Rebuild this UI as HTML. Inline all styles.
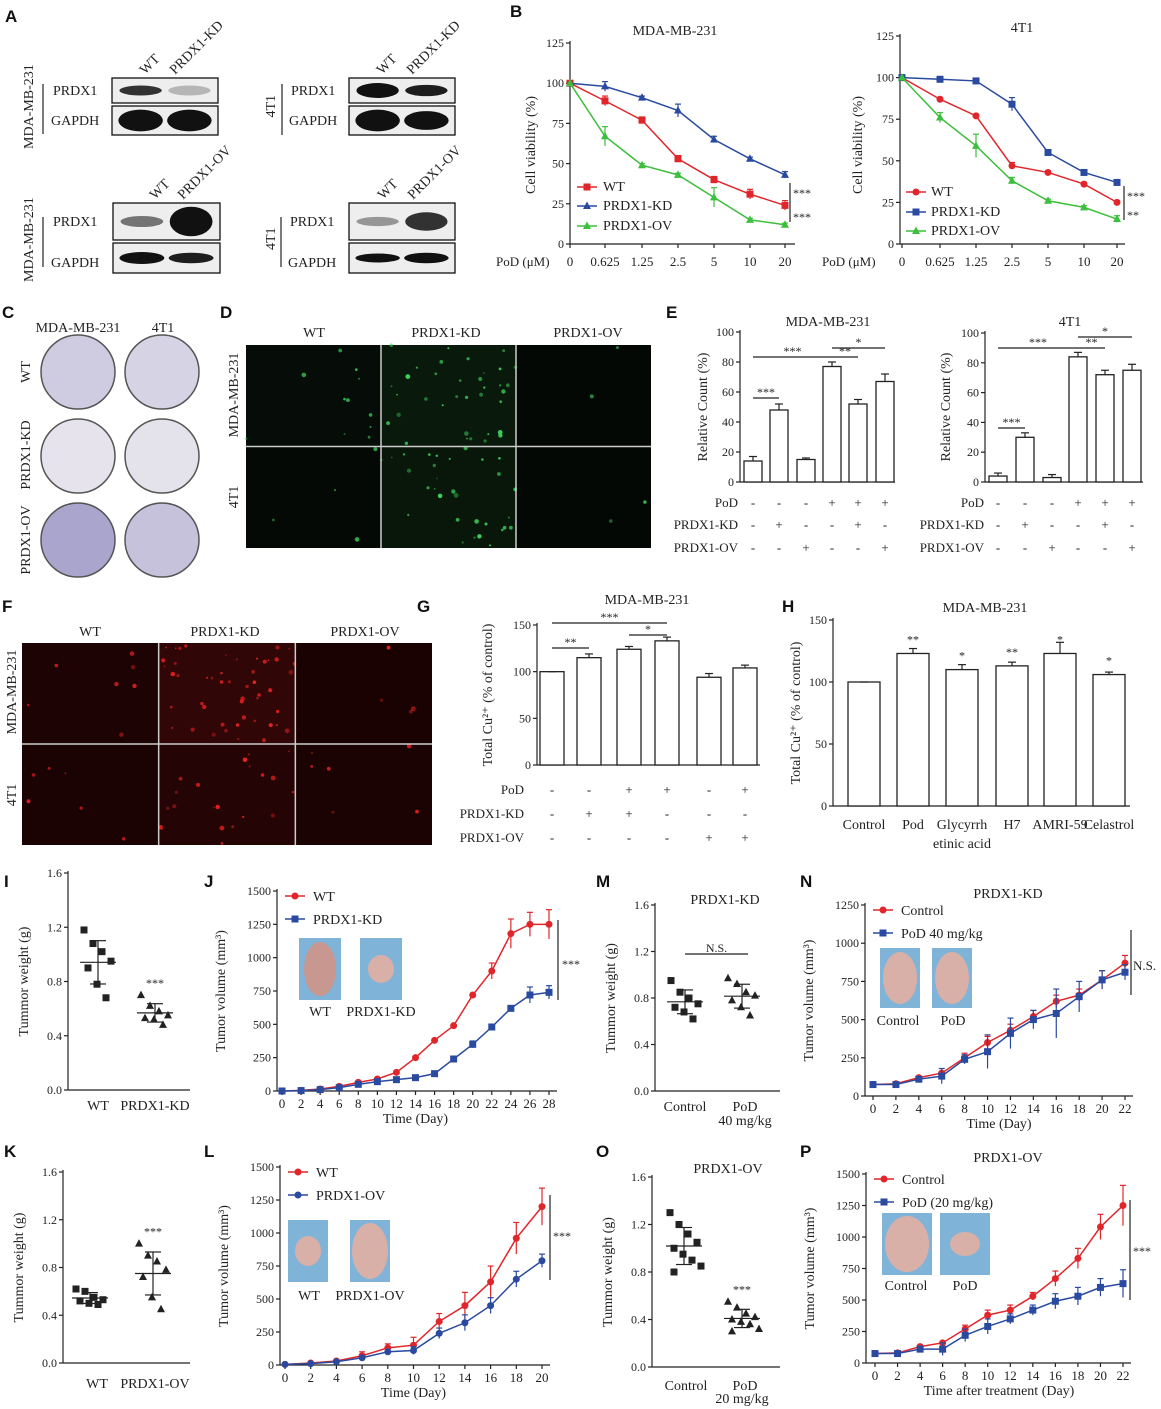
<!DOCTYPE html>
<html><head><meta charset="utf-8"><style>
html,body{margin:0;padding:0;background:#fff}
svg{display:block;font-family:"Liberation Serif",serif}
</style></head><body>
<svg id="s" width="1161" height="1409" viewBox="0 0 1161 1409" xmlns="http://www.w3.org/2000/svg">
<rect width="1161" height="1409" fill="#fff"/>
<g id="g"></g>
</svg>
<script>
var o=[];function A(x){o.push(x)}
function t(x,y,s,p){p=p||{};A('<text x="'+x+'" y="'+y+'" font-size="'+(p.fs||13)+'" text-anchor="'+(p.a||'start')+'"'+(p.r?' transform="rotate('+p.r+' '+x+' '+y+')"':'')+' fill="'+(p.c||'#222')+'"'+(p.b?' font-weight="bold" font-family="Liberation Sans,sans-serif"':'')+'>'+s+'</text>')}
function L(a,b,c,d,col,w){A('<line x1="'+a+'" y1="'+b+'" x2="'+c+'" y2="'+d+'" stroke="'+(col||'#222')+'" stroke-width="'+(w||1.2)+'"/>')}
function R(x,y,w,h,f,st){A('<rect x="'+x+'" y="'+y+'" width="'+w+'" height="'+h+'" fill="'+(f||'none')+'"'+(st?' stroke="'+st+'" stroke-width="1.3"':'')+'/>')}
var seed=7;function rnd(){seed=(seed*16807)%2147483647;return seed/2147483647}
function mk(x,y,k,c){c=c||'#222';var r=3.5;
 if(k=='o')A('<circle cx="'+x+'" cy="'+y+'" r="'+r+'" fill="'+c+'"/>');
 else if(k=='s')R(x-r,y-r,2*r,2*r,c);
 else A('<polygon points="'+x+','+(y-r-1)+' '+(x-r-0.5)+','+(y+r-0.5)+' '+(x+r+0.5)+','+(y+r-0.5)+'" fill="'+c+'"/>');}
function yax(x,yb,yt,vmax,ticks,fmt,fs){var k=(yb-yt)/vmax;L(x,yb,x,yt-2);ticks.forEach(function(v){var y=yb-v*k;L(x-4,y,x,y);t(x-6,y+4,fmt?fmt(v):v,{a:'end',fs:fs||12})});return function(v){return yb-v*k}}
[['A',5,22],['B',510,17],['C',2,318],['D',220,318],['E',666,318],['F',2,612],['G',417,612],['H',782,612],['I',4,887],['J',204,887],['M',596,887],['N',800,887],['K',4,1157],['L',204,1157],['O',596,1157],['P',800,1157]].forEach(function(a){t(a[1],a[2],a[0],{b:1,fs:17,c:'#111'})});
function band(cx,cy,w,h,op){A('<ellipse cx="'+cx+'" cy="'+cy+'" rx="'+w/2+'" ry="'+h/2+'" fill="#111" opacity="'+op+'"/>')}
function blot(x,y1,h1,y2,h2,w,b){R(x,y1,w,h1,'#eee','#111');R(x,y2,w,h2,'#eee','#111');
 band(x+w*0.27,y1+h1/2,w*0.4,h1*b[2],b[0]);band(x+w*0.73,y1+h1/2,w*0.4,h1*b[3],b[1]);
 band(x+w*0.27,y2+h2/2,w*0.42,h2*b[6],b[4]);band(x+w*0.73,y2+h2/2,w*0.42,h2*b[7],b[5]);}
blot(112,78,25,106,29,106,[0.85,0.25,0.4,0.4,1,1,0.75,0.75]);
blot(349,78,25,106,29,106,[1,0.95,0.6,0.45,1,1,0.75,0.65]);
blot(113,203,37,243,30,107,[0.55,1,0.3,0.8,1,0.95,0.4,0.35]);
blot(349,203,37,243,30,106,[0.4,0.85,0.25,0.5,1,1,0.3,0.35]);
function blotLab(xl,yp,yg,xv,yv1,yv2,name,xt){t(xl,yp,'PRDX1',{fs:14});t(xl-2,yg,'GAPDH',{fs:14});L(xv,yv1,xv,yv2);t(xt,(yv1+yv2)/2+ (name.length>4?40:8),name,{r:-90,fs:14})}
blotLab(53,95,125,43,84,134,'MDA-MB-231',33);blotLab(291,95,125,282,84,135,'4T1',275);
blotLab(53,226,267,43,217,267,'MDA-MB-231',33);blotLab(290,226,267,281,217,267,'4T1',275);
[[145,75,'WT','PRDX1-KD',175],[382,75,'WT','PRDX1-KD',412],[155,200,'WT','PRDX1-OV',183],[383,200,'WT','PRDX1-OV',413]].forEach(function(a){t(a[0],a[1],a[2],{r:-45,fs:14});t(a[4],a[1],a[3],{r:-45,fs:14})});
function lc(x0,xs,Y,ser){ser.forEach(function(s){var p=s.v.map(function(v,i){return xs[i]+','+Y(v)}).join(' ');A('<polyline points="'+p+'" fill="none" stroke="'+s.c+'" stroke-width="1.5"/>');s.v.forEach(function(v,i){if(s.e){var e=s.e[i]||0;if(e){L(xs[i],Y(v-e),xs[i],Y(v+e),s.c,1.2);L(xs[i]-3,Y(v+e),xs[i]+3,Y(v+e),s.c,1.2);}}mk(xs[i],Y(v),s.m,s.c)})})}
var RED='#e0262b',BLU='#2a4aa0',GRN='#3cbf3c';
(function(){var Y=yax(570,244,43,125,[0,25,50,75,100,125]);L(570,244,795,244);var xs=[570,605,642,678,714,750,785];
 var lb=['0','0.625','1.25','2.5','5','10','20'];xs.forEach(function(x,i){L(x,244,x,248);t(x,266,lb[i],{a:'middle',fs:13})});t(496,266,'PoD (μM)',{fs:13});
 t(535,145,'Cell viability (%)',{r:-90,a:'middle',fs:14});t(675,35,'MDA-MB-231',{a:'middle',fs:14});
 lc(0,xs,Y,[{v:[100,89,77,53,40,31,24],c:RED,m:'s',e:[0,3,2,2,2,3,3]},{v:[100,98,91,83,65,53,43],c:BLU,m:'t',e:[0,3,1,4,2,1,2]},{v:[100,67,49,43,29,15,12],c:GRN,m:'t',e:[0,6,1,1,6,1,1]}]);
 L(790,183,790,222);t(793,197,'***',{fs:12});t(793,221,'***',{fs:12});
 [[RED,'s','WT',191],[BLU,'t','PRDX1-KD',210],[GRN,'t','PRDX1-OV',230]].forEach(function(a){L(577,a[3]-4,597,a[3]-4,a[0],1.5);mk(587,a[3]-4,a[1],a[0]);t(603,a[3],a[2],{fs:14})});
})();
(function(){var Y=yax(900,244,36,125,[0,25,50,75,100,125]);L(900,244,1125,244);var xs=[902,940,976,1012,1048,1084,1117];
 var lb=['0','0.625','1.25','2.5','5','10','20'];xs.forEach(function(x,i){L(x,244,x,248);t(x,266,lb[i],{a:'middle',fs:13})});t(822,266,'PoD (μM)',{fs:13});
 t(862,145,'Cell viability (%)',{r:-90,a:'middle',fs:14});t(1022,32,'4T1',{a:'middle',fs:14});
 lc(0,xs,Y,[{v:[100,87,77,47,43,36,25],c:RED,m:'o',e:[0,1,1,2,1,1,1]},{v:[100,99,98,84,55,43,37],c:BLU,m:'s',e:[0,1,1,4,1,1,1]},{v:[100,76,59,38,26,22,15],c:GRN,m:'t',e:[0,3,7,2,1,1,2]}]);
 L(1124,186,1124,220);t(1127,200,'***',{fs:12});t(1127,219,'**',{fs:12});
 [[RED,'o','WT',196],[BLU,'s','PRDX1-KD',216],[GRN,'t','PRDX1-OV',235]].forEach(function(a){L(906,a[3]-4,926,a[3]-4,a[0],1.5);mk(916,a[3]-4,a[1],a[0]);t(931,a[3],a[2],{fs:14})});
})();
t(78,332,'MDA-MB-231',{a:'middle',fs:14});t(163,332,'4T1',{a:'middle',fs:14});
t(30,372,'WT',{r:-90,a:'middle',fs:14});t(30,455,'PRDX1-KD',{r:-90,a:'middle',fs:14});t(30,540,'PRDX1-OV',{r:-90,a:'middle',fs:14});
[[78,372,'#cfcbe0'],[162,372,'#d6d4e4'],[78,456,'#e6e3ec'],[162,456,'#e4e2ea'],[78,540,'#aaa5cc'],[162,540,'#c6c2dc']].forEach(function(c){A('<circle cx="'+c[0]+'" cy="'+c[1]+'" r="37" fill="'+c[2]+'" stroke="#555" stroke-width="1.5"/>')});
function fl(x,y,w,h,cols,rows,dens,col,bg,tint,mult){R(x,y,w,h,bg);var cw=w/cols,rh=h/rows;for(var r=0;r<rows;r++)for(var c=0;c<cols;c++){var d=dens[r][c];var cx=x+c*cw,cy=y+r*rh;
 if(d>0)A('<rect x="'+cx+'" y="'+cy+'" width="'+cw+'" height="'+rh+'" fill="'+tint+'" opacity="'+Math.min(1,d*0.5)+'"/>');
 for(var i=0;i<d*mult;i++){var px=cx+rnd()*cw,py=cy+rnd()*rh;A('<circle cx="'+px.toFixed(1)+'" cy="'+py.toFixed(1)+'" r="'+(0.8+rnd()*1.6).toFixed(1)+'" fill="'+col+'" opacity="'+(0.4+rnd()*0.6).toFixed(2)+'"/>')}}
 for(var i=1;i<cols;i++)L(x+i*cw,y,x+i*cw,y+h,'#ccc',1.5);L(x,y+h/2,x+w,y+h/2,'#ccc',1.5);}
fl(246,345,405,203,3,2,[[0.3,1,0.05],[0.1,0.9,0.05]],'#3ccf5a','#050805','#0d2a12',35);
t(314,337,'WT',{a:'middle',fs:14});t(446,337,'PRDX1-KD',{a:'middle',fs:14});t(588,337,'PRDX1-OV',{a:'middle',fs:14});
t(238,395,'MDA-MB-231',{r:-90,a:'middle',fs:14});t(238,497,'4T1',{r:-90,a:'middle',fs:14});
fl(22,643,410,202,3,2,[[0.2,1.4,0.1],[0.15,0.6,0.15]],'#e82020','#1a0303','#3a0808',35);
t(90,636,'WT',{a:'middle',fs:14});t(225,636,'PRDX1-KD',{a:'middle',fs:14});t(365,636,'PRDX1-OV',{a:'middle',fs:14});
t(16,692,'MDA-MB-231',{r:-90,a:'middle',fs:14});t(16,795,'4T1',{r:-90,a:'middle',fs:14});
function bars(Y,xs,w,vals,errs,yb){xs.forEach(function(x,i){R(x-w/2,Y(vals[i]),w,yb-Y(vals[i]),'#fff','#222');var e=errs[i];L(x,Y(vals[i]),x,Y(vals[i]+e));L(x-4,Y(vals[i]+e),x+4,Y(vals[i]+e))})}
function sig(x1,x2,y,s){L(x1,y,x2,y);t((x1+x2)/2,y-2,s,{a:'middle',fs:12})}
function tbl(x,xs,ys,rows,names){rows.forEach(function(r,j){t(x,ys[j]+4,names[j],{a:'end',fs:13});r.forEach(function(c,i){t(xs[i],ys[j]+4,c,{a:'middle',fs:13})})})}
var tr=[['-','-','-','+','+','+'],['-','+','-','-','+','-'],['-','-','+','-','-','+']];
(function(){var yb=482;var Y=yax(740,yb,332,100,[0,20,40,60,80,100]);L(740,yb,895,yb);var xs=[753,779,806,832,858,885];
 bars(Y,xs,18,[14,48,15,77,52,67],[3,4,1,3,3,5],yb);t(707,407,'Relative Count (%)',{r:-90,a:'middle',fs:14});t(828,326,'MDA-MB-231',{a:'middle',fs:14});
 sig(753,779,398,'***');sig(753,832,357,'***');sig(832,858,357,'**');sig(832,885,348,'*');
 tbl(738,xs,[503,525,548],tr,['PoD','PRDX1-KD','PRDX1-OV']);})();
(function(){var yb=482;var Y=yax(985,yb,333,100,[0,20,40,60,80,100]);L(985,yb,1143,yb);var xs=[998,1025,1052,1078,1105,1132];
 bars(Y,xs,18,[4,30,3,84,72,75],[2,3,2,3,3,4],yb);t(950,407,'Relative Count (%)',{r:-90,a:'middle',fs:14});t(1070,326,'4T1',{a:'middle',fs:14});
 sig(998,1025,428,'***');sig(998,1078,348,'***');sig(1078,1105,348,'**');sig(1078,1132,337,'*');
 tbl(984,xs,[503,525,548],tr,['PoD','PRDX1-KD','PRDX1-OV']);})();
(function(){var yb=765;var Y=yax(537,yb,625,150,[0,50,100,150]);L(537,yb,760,yb);var xs=[552,589,629,667,709,745];
 bars(Y,xs,24,[100,115,124,133,94,104],[0,4,3,4,4,3],yb);t(492,695,'Total Cu²⁺ (% of control)',{r:-90,a:'middle',fs:14});t(647,604,'MDA-MB-231',{a:'middle',fs:14});
 sig(552,589,648,'**');sig(552,667,623,'***');sig(629,667,635,'*');
 tbl(524,xs,[790,814,838],[['-','-','+','+','-','+'],['-','+','+','-','-','-'],['-','-','-','-','+','+']],['PoD','PRDX1-KD','PRDX1-OV']);})();
(function(){var yb=806;var Y=yax(833,yb,620,150,[0,50,100,150]);L(833,yb,1130,yb);var xs=[864,913,962,1012,1060,1109];
 bars(Y,xs,32,[100,123,110,113,123,106],[0,4,4,3,9,2],yb);t(800,713,'Total Cu²⁺ (% of control)',{r:-90,a:'middle',fs:14});t(985,612,'MDA-MB-231',{a:'middle',fs:14});
 ['','**','*','**','*','*'].forEach(function(s,i){if(s)t(xs[i],[0,123,110,113,123,106][i]*-1.24+806-10,s,{a:'middle',fs:12})});
 ['Control','Pod','Glycyrrh','H7','AMRI-59','Celastrol'].forEach(function(s,i){t(xs[i],829,s,{a:'middle',fs:14})});t(962,848,'etinic acid',{a:'middle',fs:14});})();
function sc(x0,yb,yt,xa,xb,g1,g2,labs,ylab,star,xend){var Y=yax(x0,yb,yt,1.6,[0,0.4,0.8,1.2,1.6],function(v){return v.toFixed(1)});L(x0,yb,xend,yb);
 t(x0-40,(yb+yt)/2,ylab,{r:-90,a:'middle',fs:14});
 [[xa,g1,'s'],[xb,g2,'t']].forEach(function(g){var v=g[1],m=v.reduce(function(a,b){return a+b})/v.length,sd=Math.sqrt(v.reduce(function(a,b){return a+(b-m)*(b-m)},0)/v.length);
  v.forEach(function(q,i){mk(g[0]-14+(i%4)*9+(i>3?4:0),Y(q),g[2])});L(g[0]-18,Y(m),g[0]+18,Y(m));L(g[0],Y(m-sd),g[0],Y(m+sd));L(g[0]-8,Y(m-sd),g[0]+8,Y(m-sd));L(g[0]-8,Y(m+sd),g[0]+8,Y(m+sd));});
 if(star)t(xb,Y(Math.max.apply(null,g2))-8,'***',{a:'middle',fs:12});
 return Y}
sc(68,1090,873,98,155,[1.18,1.08,1.02,0.95,0.9,0.78,0.68],[0.7,0.62,0.58,0.55,0.53,0.52,0.48],0,'Tummor weight (g)',1,190);t(98,1110,'WT',{a:'middle',fs:14});t(155,1110,'PRDX1-KD',{a:'middle',fs:14});
sc(63,1363,1172,90,153,[0.62,0.6,0.55,0.53,0.52,0.5,0.49],[1.0,0.9,0.85,0.78,0.72,0.55,0.45],0,'Tummor weight (g)',1,190);t(97,1388,'WT',{a:'middle',fs:14});t(155,1388,'PRDX1-OV',{a:'middle',fs:14});
sc(655,1091,905,685,742,[0.95,0.85,0.8,0.75,0.72,0.68,0.62],[0.97,0.92,0.85,0.82,0.78,0.72,0.65],0,'Tummor weight (g)',0,780);t(685,1111,'Control',{a:'middle',fs:14});t(745,1111,'PoD',{a:'middle',fs:14});t(745,1125,'40 mg/kg',{a:'middle',fs:14});
sig(685,748,954,'N.S.');t(725,904,'PRDX1-KD',{a:'middle',fs:14});
sc(652,1367,1177,684,742,[1.3,1.2,1.12,1.05,1.0,0.95,0.9,0.85,0.8],[0.55,0.5,0.45,0.42,0.4,0.38,0.36,0.32,0.3],0,'Tummor weight (g)',1,780);t(686,1390,'Control',{a:'middle',fs:14});t(745,1390,'PoD',{a:'middle',fs:14});t(742,1403,'20 mg/kg',{a:'middle',fs:14});t(728,1173,'PRDX1-OV',{a:'middle',fs:14});
function tv(x0,yb,yt,vmax,ticks,xA,xB,days,s1,s2,m2,c1lab,c2lab,xl,ylab){var Y=yax(x0,yb,yt,vmax,ticks);L(x0,yb,xB+8,yb);var xs=[];var n=s1.v.length;
 for(var i=0;i<n;i++){var x=xA+(xB-xA)*i/(n-1);xs.push(x);L(x,yb,x,yb+4);t(x,yb+17,days[i],{a:'middle',fs:13})}
 t((xA+xB)/2,yb+32,xl,{a:'middle',fs:14});t(x0-52,(yb+yt)/2,ylab,{r:-90,a:'middle',fs:14});
 lc(0,xs,Y,[{v:s1.v,e:s1.e,c:RED,m:'o'},{v:s2.v,e:s2.e,c:BLU,m:m2}]);
 L(x0+8,yt+5,x0+28,yt+5,RED,1.5);mk(x0+18,yt+5,'o',RED);t(x0+36,yt+10,c1lab,{fs:14});
 L(x0+8,yt+28,x0+28,yt+28,BLU,1.5);mk(x0+18,yt+28,m2,BLU);t(x0+36,yt+33,c2lab,{fs:14});return Y}
function tum(x,y,w,h,rx,ry,c){R(x,y,w,h,'#7fb3d8');A('<ellipse cx="'+(x+w/2)+'" cy="'+(y+h/2)+'" rx="'+rx+'" ry="'+ry+'" fill="'+(c||'#d8b0a8')+'"/>')}
var d28=[];for(var i=0;i<=28;i+=2)d28.push(i);var d22=[];for(i=0;i<=22;i+=2)d22.push(i);var d20=[];for(i=0;i<=20;i+=2)d20.push(i);
tv(277,1091,891,1500,[0,250,500,750,1000,1250,1500],282,549,d28,{v:[0,5,15,35,65,90,140,250,380,490,720,900,1180,1250,1250],e:[0,0,0,0,0,0,0,0,0,0,0,60,110,90,110]},{v:[0,3,10,25,50,70,85,100,130,240,350,480,620,720,740],e:[0,0,0,0,0,0,0,0,0,0,25,0,0,60,50]},'s','WT','PRDX1-KD','Time (Day)','Tumor volume (mm³)');
L(558,920,558,1000);t(562,968,'***',{fs:12});tum(299,938,42,62,16,27,'#c89890');tum(360,938,42,62,13,14);t(320,1016,'WT',{a:'middle',fs:14});t(381,1016,'PRDX1-KD',{a:'middle',fs:14});
tv(865,1096,905,1250,[0,250,500,750,1000,1250],873,1125,d22,{v:[75,80,120,150,250,350,430,520,620,660,760,870],e:[0,0,0,0,30,40,40,40,40,40,60,50]},{v:[75,75,110,130,240,290,410,500,540,650,760,810],e:[0,0,0,50,30,110,100,60,160,100,60,50]},'s','Control','PoD 40 mg/kg','Time (Day)','Tumor volume (mm³)');
L(1131,930,1131,995);t(1133,970,'N.S.',{fs:13});t(1008,898,'PRDX1-KD',{a:'middle',fs:14});tum(880,948,40,60,17,26);tum(932,948,40,60,17,26);t(898,1025,'Control',{a:'middle',fs:14});t(953,1025,'PoD',{a:'middle',fs:14});
tv(280,1365,1167,1500,[0,250,500,750,1000,1250,1500],285,542,d20,{v:[5,15,30,70,130,150,330,450,630,960,1200],e:[0,0,0,30,30,60,60,100,120,120,140]},{v:[5,10,25,55,100,110,240,320,450,650,790],e:[0,0,0,0,0,30,40,60,60,60,50]},'o','WT','PRDX1-OV','Time (Day)','Tumor volume (mm³)');
L(550,1195,550,1280);t(553,1240,'***',{fs:12});tum(288,1220,40,62,13,15);tum(350,1220,40,62,18,28);t(309,1300,'WT',{a:'middle',fs:14});t(370,1300,'PRDX1-OV',{a:'middle',fs:14});
tv(866,1363,1174,1500,[0,250,500,750,1000,1250,1500],875,1123,d22,{v:[75,80,130,160,270,380,420,530,670,830,1080,1250],e:[0,0,0,0,30,40,40,30,60,80,100,160]},{v:[75,75,110,110,220,290,350,420,490,530,600,630],e:[0,0,0,50,50,60,40,40,60,70,70,110]},'s','Control','PoD (20 mg/kg)','Time after treatment (Day)','Tumor volume (mm³)');
L(1130,1200,1130,1300);t(1133,1255,'***',{fs:12});t(1008,1162,'PRDX1-OV',{a:'middle',fs:14});tum(882,1213,50,62,22,28);tum(940,1213,50,62,15,12);t(906,1290,'Control',{a:'middle',fs:14});t(965,1290,'PoD',{a:'middle',fs:14});
document.getElementById('g').innerHTML=o.join('');
</script>
</body></html>
